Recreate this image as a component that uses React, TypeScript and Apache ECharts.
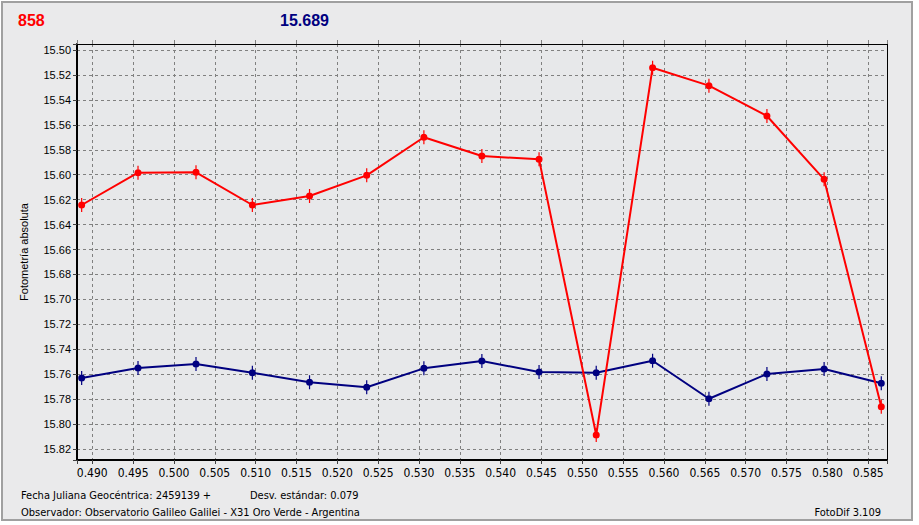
import React, { useEffect, useRef } from "react";
import * as echarts from "echarts";

// Julian date fraction (added to 2459139)
const jdFraction = [
  0.4887, 0.4956, 0.5027, 0.5096, 0.5166, 0.5236, 0.5306, 0.5377, 0.5447,
  0.5517, 0.5586, 0.5655, 0.5726, 0.5796, 0.5866,
];
// Variable star (858) absolute photometry
const varMag = [
  15.6243, 15.5984, 15.5981, 15.6243, 15.6171, 15.6005, 15.57, 15.585, 15.5877,
  15.8087, 15.5142, 15.5286, 15.5529, 15.6037, 15.786,
];
// Comparison star (15.689) absolute photometry
const compMag = [
  15.763, 15.755, 15.7518, 15.7588, 15.7665, 15.7705, 15.7553, 15.7494,
  15.7582, 15.7588, 15.7492, 15.7797, 15.7598, 15.7558, 15.7673,
];

const xRange = [0.48813, 0.5873];
const yRange = [15.49519, 15.82879];
const xStep = 0.005;
const yStep = 0.02;

const titleVar = "858";
const titleComp = "15.689";
const yAxisTitle = "Fotometría absoluta";
const footerDate = "Fecha Juliana Geocéntrica: 2459139 +";
const footerStd = "Desv. estándar: 0.079";
const footerObs = "Observador: Observatorio Galileo Galilei - X31 Oro Verde - Argentina";
const footerApp = "FotoDif 3.109";

const RED = "#ff0000";
const NAVY = "#000080";
const FONT = "'Liberation Sans', Arial, sans-serif";
const NARROW = "'Liberation Sans Narrow', 'Arial Narrow', 'DejaVu Sans Condensed', sans-serif";

const isMultiple = (v: number, step: number) =>
  Math.abs(v / step - Math.round(v / step)) < 1e-6;

const MARKER =
  "path://M1,7 A3.5,3.5 0 1,1 8,7 A3.5,3.5 0 1,1 1,7 Z M3.9,0 L5.1,0 L5.1,14 L3.9,14 Z";

export default function App() {
  const ref = useRef<HTMLDivElement>(null);

  useEffect(() => {
    if (!ref.current) return;
    const chart = echarts.init(ref.current, undefined, { renderer: "svg" });
    const gridCol = "#808080";
    const option: any = {
      animation: false,
      grid: {
        left: 77,
        top: 44,
        right: 32,
        bottom: 65,
        show: true,
        backgroundColor: "#e7e8ea",
        borderWidth: 0,
      },
      xAxis: [
        {
          type: "value",
          position: "bottom",
          min: xRange[0],
          max: xRange[1],
          minInterval: xStep,
          maxInterval: xStep,
          axisLine: { show: true, onZero: false, lineStyle: { color: "#000", width: 2 } },
          axisTick: { show: true, inside: false, length: 4, lineStyle: { color: "#404040" } },
          axisLabel: {
            margin: 7,
            fontSize: 12,
            fontFamily: NARROW,
            color: "#000",
            formatter: (v: number) => (isMultiple(v, xStep) ? v.toFixed(3) : ""),
          },
          splitLine: {
            show: true,
            showMinLine: false,
            showMaxLine: false,
            lineStyle: { color: gridCol, type: [3, 3], width: 1 },
          },
        },
        {
          type: "value",
          position: "top",
          min: xRange[0],
          max: xRange[1],
          minInterval: xStep,
          maxInterval: xStep,
          axisLine: { show: true, onZero: false, lineStyle: { color: "#000", width: 1 } },
          axisTick: { show: true, inside: false, length: 4, lineStyle: { color: gridCol } },
          axisLabel: { show: false },
          splitLine: { show: false },
        },
      ],
      yAxis: [
        {
          type: "value",
          position: "left",
          inverse: true,
          min: yRange[0],
          max: yRange[1],
          minInterval: yStep,
          maxInterval: yStep,
          name: yAxisTitle,
          nameLocation: "middle",
          nameGap: 48,
          nameTextStyle: { fontSize: 11, fontFamily: FONT, color: "#000" },
          axisLine: { show: true, onZero: false, lineStyle: { color: "#000", width: 2 } },
          axisTick: { show: true, inside: false, length: 4, lineStyle: { color: "#404040" } },
          axisLabel: {
            margin: 6,
            fontSize: 11,
            fontFamily: FONT,
            color: "#000",
            formatter: (v: number) => (isMultiple(v, yStep) ? v.toFixed(2) : ""),
          },
          splitLine: {
            show: true,
            showMinLine: false,
            showMaxLine: false,
            lineStyle: { color: gridCol, type: [3, 3], width: 1 },
          },
        },
        {
          type: "value",
          position: "right",
          inverse: true,
          min: yRange[0],
          max: yRange[1],
          minInterval: yStep,
          maxInterval: yStep,
          axisLine: { show: true, onZero: false, lineStyle: { color: "#000", width: 1 } },
          axisTick: { show: false },
          axisLabel: { show: false },
          splitLine: { show: false },
        },
      ],
      series: [
        {
          type: "line",
          name: titleVar,
          xAxisIndex: 0,
          yAxisIndex: 0,
          data: jdFraction.map((x, i) => [x, varMag[i]]),
          symbol: MARKER,
          symbolSize: [7, 14],
          showSymbol: true,
          lineStyle: { color: RED, width: 2 },
          itemStyle: { color: RED, borderWidth: 0 },
          z: 3,
        },
        {
          type: "line",
          name: titleComp,
          xAxisIndex: 0,
          yAxisIndex: 0,
          data: jdFraction.map((x, i) => [x, compMag[i]]),
          symbol: MARKER,
          symbolSize: [7, 14],
          showSymbol: true,
          lineStyle: { color: NAVY, width: 2 },
          itemStyle: { color: NAVY, borderWidth: 0 },
          z: 2,
        },
      ],
      graphic: [
        {
          type: "text",
          left: 18,
          top: 12,
          style: { text: titleVar, fill: RED, font: `bold 16px ${FONT}` },
        },
        {
          type: "text",
          left: 280,
          top: 12,
          style: { text: titleComp, fill: NAVY, font: `bold 16px ${FONT}` },
        },
        {
          type: "text",
          x: 21,
          y: 495,
          style: { text: footerDate, fill: "#000", font: `11px ${NARROW}`, verticalAlign: "middle" },
        },
        {
          type: "text",
          x: 250,
          y: 495,
          style: { text: footerStd, fill: "#000", font: `11px ${NARROW}`, verticalAlign: "middle" },
        },
        {
          type: "text",
          x: 21,
          y: 512,
          style: { text: footerObs, fill: "#000", font: `11px ${NARROW}`, verticalAlign: "middle" },
        },
        {
          type: "text",
          x: 881,
          y: 512,
          style: {
            text: footerApp,
            fill: "#000",
            font: `11px ${NARROW}`,
            align: "right",
            verticalAlign: "middle",
          },
        },
      ],
    };
    chart.setOption(option);
    return () => chart.dispose();
  }, []);

  return (
    <div
      style={{
        position: "absolute",
        left: 0,
        top: 0,
        width: 919,
        height: 525,
        background: "#ffffff",
        overflow: "hidden",
      }}
    >
      <div
        style={{
          position: "absolute",
          left: 1,
          top: 1,
          width: 912,
          height: 520,
          boxSizing: "border-box",
          border: "2px solid #a0a0a0",
          background: "#eaeaeb",
        }}
      />
      <div
        ref={ref}
        style={{ position: "absolute", left: 0, top: 0, width: 919, height: 525 }}
      />
    </div>
  );
}
